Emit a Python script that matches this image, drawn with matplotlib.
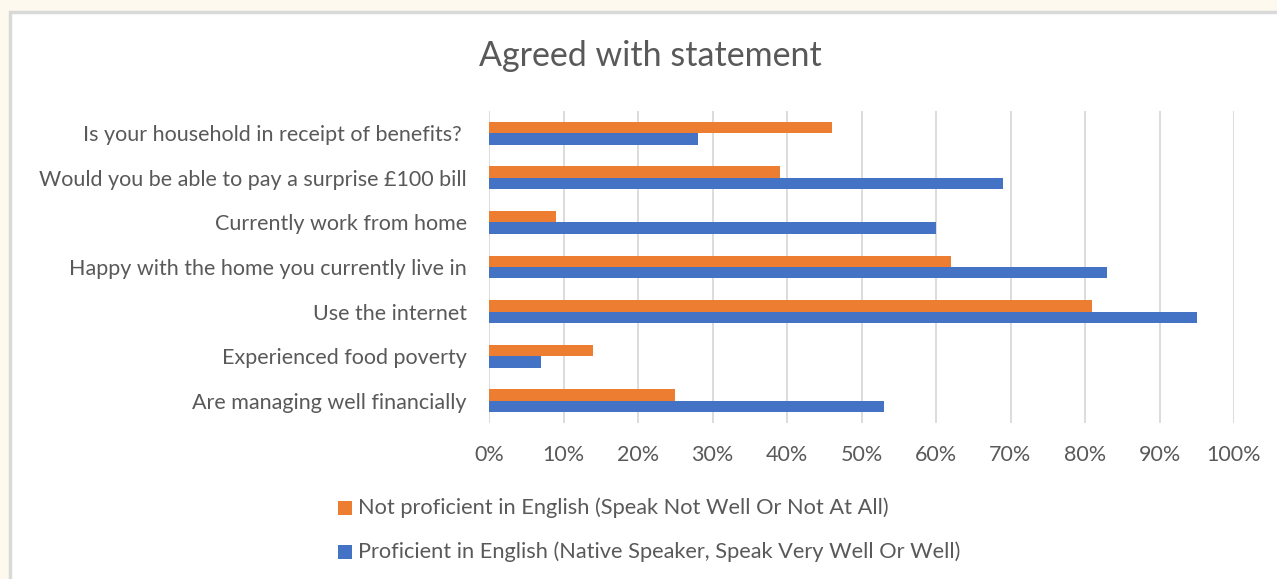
import numpy as np
import matplotlib.pyplot as plt
from matplotlib.patches import Rectangle
from matplotlib.ticker import PercentFormatter

plt.rcParams['font.family'] = ['Lato', 'DejaVu Sans']

# datos (de arriba hacia abajo)
categories = [
    "Is your household in receipt of benefits? ",
    "Would you be able to pay a surprise £100 bill",
    "Currently work from home",
    "Happy with the home you currently live in",
    "Use the internet",
    "Experienced food poverty",
    "Are managing well financially",
]
not_proficient = [46, 39, 9, 62, 81, 14, 25]
proficient = [28, 69, 60, 83, 95, 7, 53]
series_names = [
    "Not proficient in English (Speak Not Well Or Not At All)",
    "Proficient in English (Native Speaker, Speak Very Well Or Well)",
]

orange = '#ED7D31'
blue = '#4472C4'
text_col = '#595959'
grid_col = '#D9D9D9'

W, H = 1277, 579
fig = plt.figure(figsize=(W / 100, H / 100), dpi=100, facecolor='#FDF9EF')

# panel blanco del grafico
panel = Rectangle((10 / W, -0.2), 1.2, 1.2 - 12 / H, transform=fig.transFigure,
                  facecolor='white', edgecolor=grid_col, linewidth=2.5, zorder=-5)
fig.patches.append(panel)

ax = fig.add_axes([489 / W, 1 - 423 / H, (1234 - 489) / W, (423 - 111) / H])
ax.set_facecolor('none')
ax.set_zorder(5)

y = np.arange(len(categories))
h = 0.255
ax.barh(y - h / 2, not_proficient, height=h, color=orange, zorder=3)
ax.barh(y + h / 2, proficient, height=h, color=blue, zorder=3)

ax.set_ylim(len(categories) - 0.5, -0.5)
ax.set_xlim(0, 100)
ax.set_xticks(np.arange(0, 101, 10))
ax.xaxis.set_major_formatter(PercentFormatter(decimals=0))
ax.set_yticks(y)
ax.set_yticklabels(categories)
ax.tick_params(axis='both', length=0, labelsize=15.5, labelcolor=text_col)
ax.tick_params(axis='y', pad=16)
ax.tick_params(axis='x', pad=16)
ax.grid(axis='x', color=grid_col, linewidth=1.3, zorder=0)
for s in ax.spines.values():
    s.set_visible(False)

fig.text(650 / W, 1 - 56 / H, "Agreed with statement", ha='center', va='center',
         fontsize=24.5, color=text_col)

# leyenda
for i, (name, col) in enumerate(zip(series_names, [orange, blue])):
    yy = 1 - (508 + 44 * i) / H
    fig.add_artist(Rectangle((338 / W, yy - 7 / H), 14 / W, 14 / H,
                             transform=fig.transFigure, facecolor=col, edgecolor='none'))
    fig.text(358 / W, yy, name, ha='left', va='center', fontsize=15.7, color=text_col)

plt.savefig('out.png', dpi=100, facecolor=fig.get_facecolor())
